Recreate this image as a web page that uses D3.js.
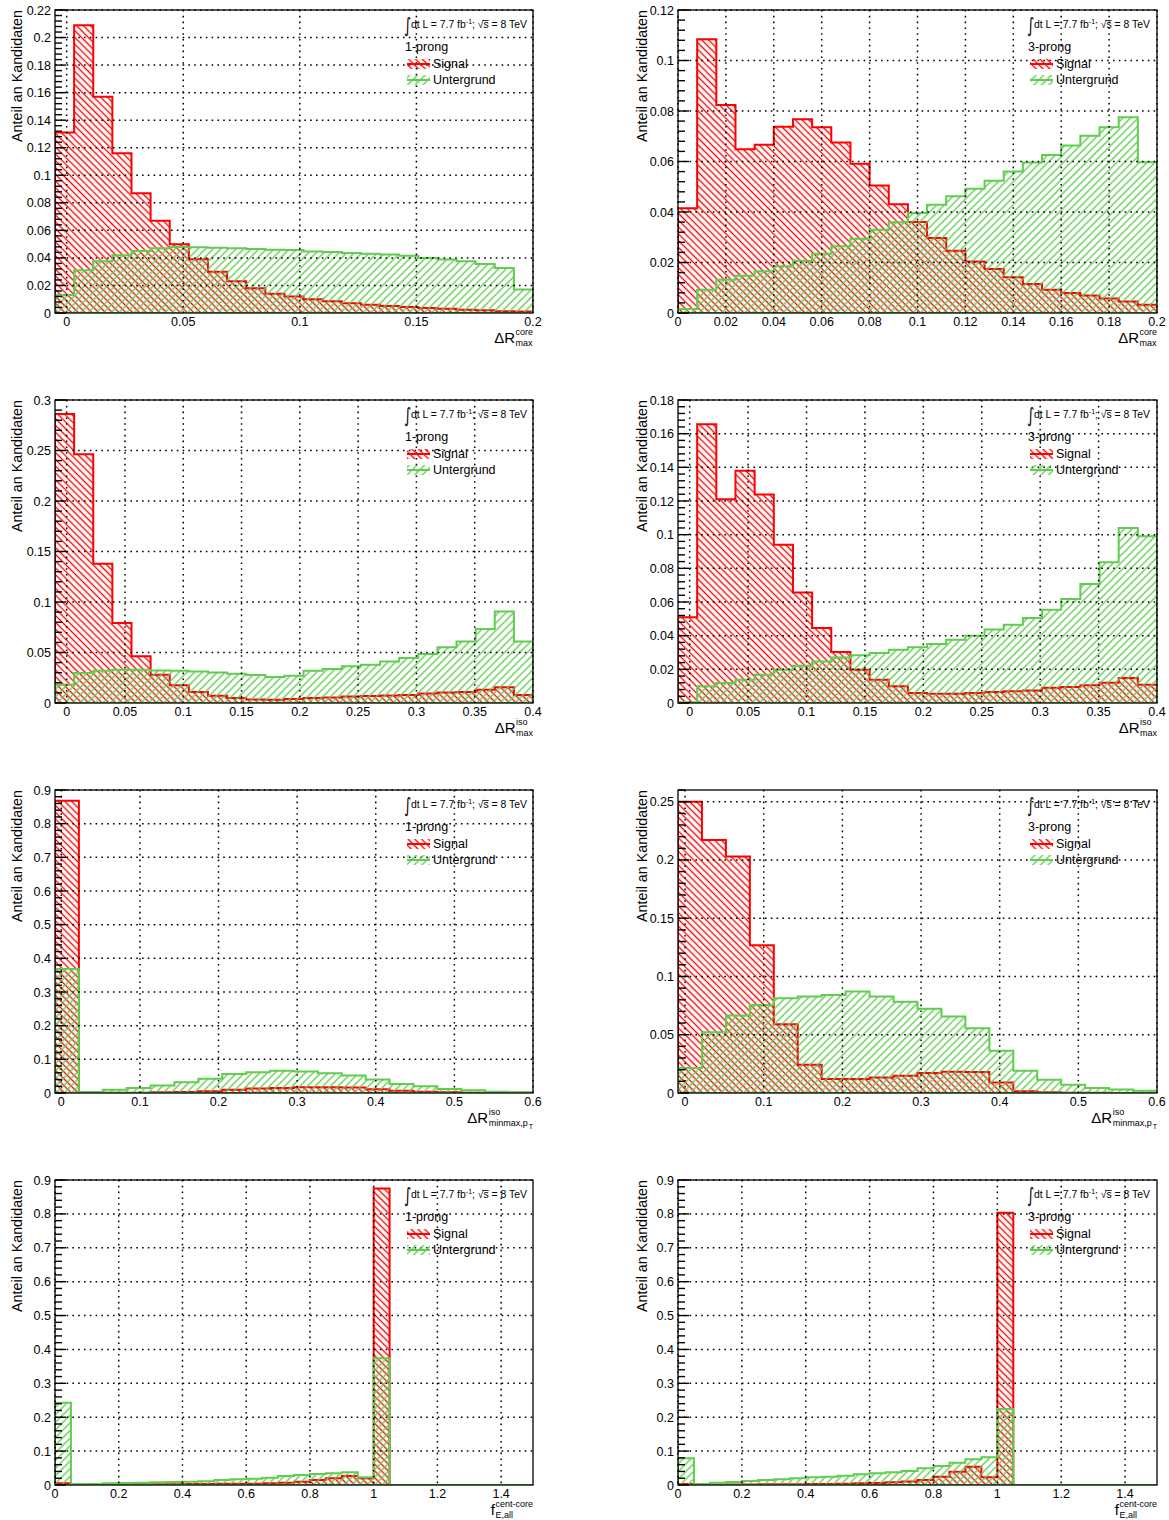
<!DOCTYPE html>
<html>
<head>
<meta charset="utf-8">
<script src="https://cdn.jsdelivr.net/npm/d3@7"></script>
<style>
  body { margin: 0; background: #fff; }
  svg { display: block; font-family: "Liberation Sans", Arial, Helvetica, sans-serif; }
</style>
</head>
<body>
<svg id="chart" width="1169" height="1520"></svg>
<script>
// ---- data: normalised candidate fractions per bin (signal / background) ----
const legendLabels = ["Signal", "Untergrund"];
const prongLabels = ["1-prong", "3-prong"];

// ΔR_max^core, 1-prong  (25 bins, -0.005 .. 0.2)
const xRange1 = [-0.005, 0.2];
const sig1 = [0.131,0.209,0.157,0.116,0.087,0.067,0.050,0.039,0.030,0.023,0.018,0.014,0.012,0.010,0.0085,0.007,0.006,0.005,0.0044,0.0036,0.003,0.0024,0.002,0.0013,0.001];
const bkg1 = [0.013,0.031,0.0375,0.042,0.045,0.047,0.048,0.0478,0.0474,0.047,0.0465,0.046,0.0458,0.0447,0.0443,0.0436,0.043,0.0425,0.0415,0.040,0.0388,0.0375,0.0355,0.0327,0.017];
const xTicks1 = [0, 0.05, 0.1, 0.15, 0.2];
const yTicks1 = [0,0.02,0.04,0.06,0.08,0.1,0.12,0.14,0.16,0.18,0.2,0.22];

// ΔR_max^core, 3-prong  (25 bins, 0 .. 0.2)
const xRange2 = [0, 0.2];
const sig2 = [0.0415,0.1084,0.0824,0.0649,0.0666,0.0738,0.0767,0.0736,0.0675,0.0591,0.0505,0.0431,0.0360,0.0297,0.0247,0.0204,0.0174,0.0142,0.0115,0.0092,0.0079,0.0069,0.0057,0.0046,0.0033];
const bkg2 = [0.0016,0.0092,0.0132,0.0148,0.0165,0.0185,0.0207,0.0235,0.0264,0.0294,0.033,0.0359,0.0396,0.0429,0.0462,0.0492,0.0524,0.056,0.0596,0.0626,0.0663,0.0702,0.0736,0.0775,0.0597];
const xTicks2 = [0,0.02,0.04,0.06,0.08,0.1,0.12,0.14,0.16,0.18,0.2];
const yTicks2 = [0,0.02,0.04,0.06,0.08,0.1,0.12];

// ΔR_max^iso, 1-prong  (25 bins, -0.01 .. 0.4)
const xRange3 = [-0.01, 0.4];
const sig3 = [0.2862,0.2463,0.1378,0.0791,0.0462,0.028,0.0175,0.0109,0.0073,0.005,0.0035,0.0033,0.004,0.005,0.0055,0.0065,0.007,0.0075,0.008,0.0095,0.0105,0.011,0.013,0.0155,0.008];
const bkg3 = [0.0181,0.0297,0.032,0.033,0.033,0.0323,0.032,0.0313,0.0303,0.029,0.0277,0.0257,0.027,0.032,0.0336,0.0363,0.0379,0.0412,0.0445,0.0485,0.0551,0.061,0.0732,0.0907,0.061];
const xTicks3 = [0,0.05,0.1,0.15,0.2,0.25,0.3,0.35,0.4];
const yTicks3 = [0,0.05,0.1,0.15,0.2,0.25,0.3];

// ΔR_max^iso, 3-prong  (25 bins, -0.01 .. 0.4)
const xRange4 = [-0.01, 0.4];
const sig4 = [0.051,0.1656,0.121,0.1379,0.1238,0.094,0.0657,0.0445,0.0303,0.0198,0.0138,0.0099,0.006,0.0055,0.0055,0.006,0.0065,0.007,0.0075,0.009,0.0095,0.0105,0.012,0.0148,0.0109];
const bkg4 = [0.0004,0.0099,0.0119,0.0138,0.0168,0.0198,0.0222,0.0247,0.0271,0.0283,0.0297,0.0317,0.0331,0.035,0.0376,0.04,0.0436,0.0465,0.0505,0.0554,0.0618,0.0707,0.0836,0.104,0.099];
const xTicks4 = [0,0.05,0.1,0.15,0.2,0.25,0.3,0.35,0.4];
const yTicks4 = [0,0.02,0.04,0.06,0.08,0.1,0.12,0.14,0.16,0.18];

// ΔR_minmax,pT^iso, 1-prong  (20 bins, -0.008 .. 0.6)
const xRange5 = [-0.008, 0.6];
const sig5 = [0.868,0.001,0.001,0.001,0.002,0.003,0.005,0.010,0.013,0.015,0.017,0.017,0.016,0.011,0.007,0.004,0.002,0.001,0.001,0.0005];
const bkg5 = [0.368,0.003,0.0099,0.015,0.022,0.032,0.0426,0.0564,0.062,0.066,0.064,0.059,0.052,0.040,0.027,0.020,0.012,0.008,0.004,0.002];
const xTicks5 = [0,0.1,0.2,0.3,0.4,0.5,0.6];
const yTicks5 = [0,0.1,0.2,0.3,0.4,0.5,0.6,0.7,0.8,0.9];

// ΔR_minmax,pT^iso, 3-prong  (20 bins, -0.009 .. 0.6)
const xRange6 = [-0.009, 0.6];
const sig6 = [0.25,0.2172,0.203,0.1268,0.059,0.0242,0.012,0.012,0.0134,0.0148,0.0171,0.0182,0.018,0.0091,0.0014,0.0006,0.0003,0.0002,0.0001,0.0001];
const bkg6 = [0.0214,0.0522,0.0664,0.0755,0.0812,0.0827,0.0841,0.087,0.0827,0.0784,0.0724,0.0656,0.0556,0.0362,0.0191,0.0114,0.0071,0.0043,0.0029,0.002];
const xTicks6 = [0,0.1,0.2,0.3,0.4,0.5,0.6];
const yTicks6 = [0,0.05,0.1,0.15,0.2,0.25];

// f_E,all^cent-core, 1-prong  (30 bins, 0 .. 1.5)
const xRange7 = [0, 1.5];
const sig7 = [0.005,0.0005,0.001,0.001,0.0015,0.002,0.002,0.0025,0.003,0.003,0.0035,0.004,0.004,0.005,0.007,0.0098,0.0148,0.0197,0.0266,0.0197,0.875,0,0,0,0,0,0,0,0,0];
const bkg7 = [0.243,0.002,0.003,0.005,0.006,0.007,0.008,0.009,0.0098,0.011,0.0148,0.0167,0.0187,0.0216,0.0266,0.0295,0.0325,0.0344,0.0374,0.0226,0.374,0,0,0,0,0,0,0,0,0];
const xTicks7 = [0,0.2,0.4,0.6,0.8,1,1.2,1.4];
const yTicks7 = [0,0.1,0.2,0.3,0.4,0.5,0.6,0.7,0.8,0.9];

// f_E,all^cent-core, 3-prong  (30 bins, 0 .. 1.5)
const xRange8 = [0, 1.5];
const sig8 = [0.003,0.001,0.001,0.0015,0.0015,0.002,0.002,0.0025,0.003,0.003,0.0035,0.005,0.006,0.008,0.010,0.0148,0.0246,0.0393,0.054,0.0226,0.8036,0,0,0,0,0,0,0,0,0];
const bkg8 = [0.0787,0.003,0.0069,0.0089,0.0118,0.0148,0.0167,0.0197,0.0226,0.0246,0.0275,0.0315,0.0344,0.0374,0.0413,0.0492,0.056,0.0659,0.0757,0.0816,0.2243,0,0,0,0,0,0,0,0,0];
const xTicks8 = [0,0.2,0.4,0.6,0.8,1,1.2,1.4];
const yTicks8 = [0,0.1,0.2,0.3,0.4,0.5,0.6,0.7,0.8,0.9];

// axis titles: [main, superscript, subscript, sub-subscript]
const titleCore = ["ΔR", "core", "max", ""];
const titleIso = ["ΔR", "iso", "max", ""];
const titleMinmax = ["ΔR", "iso", "minmax,p", "T"];
const titleFrac = ["f", "cent-core", "E,all", ""];

const panels = [
  { xr: xRange1, yMax: 0.22, xt: xTicks1, yt: yTicks1, sig: sig1, bkg: bkg1, prong: 0, title: titleCore },
  { xr: xRange2, yMax: 0.12, xt: xTicks2, yt: yTicks2, sig: sig2, bkg: bkg2, prong: 1, title: titleCore },
  { xr: xRange3, yMax: 0.30, xt: xTicks3, yt: yTicks3, sig: sig3, bkg: bkg3, prong: 0, title: titleIso },
  { xr: xRange4, yMax: 0.18, xt: xTicks4, yt: yTicks4, sig: sig4, bkg: bkg4, prong: 1, title: titleIso },
  { xr: xRange5, yMax: 0.90, xt: xTicks5, yt: yTicks5, sig: sig5, bkg: bkg5, prong: 0, title: titleMinmax },
  { xr: xRange6, yMax: 0.26, xt: xTicks6, yt: yTicks6, sig: sig6, bkg: bkg6, prong: 1, title: titleMinmax },
  { xr: xRange7, yMax: 0.90, xt: xTicks7, yt: yTicks7, sig: sig7, bkg: bkg7, prong: 0, title: titleFrac },
  { xr: xRange8, yMax: 0.90, xt: xTicks8, yt: yTicks8, sig: sig8, bkg: bkg8, prong: 1, title: titleFrac }
];

// ---- layout & style ----
const colLeft = [55, 678];
const colWidth = [478, 479];
const rowTop = [10, 400, 790, 1180];
const rowHeight = [303, 303, 303, 305];
const RED = "#ff0000";
const GREEN = "#5fcd4f";

const svg = d3.select("#chart");
const defs = svg.append("defs");

function hatch(id, color, angle, gap) {
  const p = defs.append("pattern")
    .attr("id", id)
    .attr("patternUnits", "userSpaceOnUse")
    .attr("width", gap).attr("height", gap)
    .attr("patternTransform", `rotate(${angle})`);
  p.append("line")
    .attr("x1", gap / 2).attr("x2", gap / 2)
    .attr("y1", -1).attr("y2", gap + 1)
    .attr("stroke", color).attr("stroke-width", 1.35);
}
hatch("hatchSig", RED, -45, 4.8);
hatch("hatchBkg", GREEN, 45, 5.4);

function histPoints(values, xr) {
  const w = (xr[1] - xr[0]) / values.length;
  const pts = [[xr[0], 0]];
  values.forEach((v, i) => {
    pts.push([xr[0] + i * w, v]);
    pts.push([xr[0] + (i + 1) * w, v]);
  });
  pts.push([xr[1], 0]);
  return pts;
}

function drawPanel(p, idx) {
  const col = idx % 2, row = Math.floor(idx / 2);
  const L = colLeft[col], W = colWidth[col];
  const T = rowTop[row], H = rowHeight[row];
  const x = d3.scaleLinear().domain(p.xr).range([L, L + W]);
  const y = d3.scaleLinear().domain([0, p.yMax]).range([T + H, T]);
  const g = svg.append("g");

  const clipId = "clip" + idx;
  defs.append("clipPath").attr("id", clipId)
    .append("rect").attr("x", L).attr("y", T).attr("width", W).attr("height", H);

  const line = d3.line().x(d => x(d[0])).y(d => y(d[1]));
  const hg = g.append("g").attr("clip-path", `url(#${clipId})`);
  [[p.sig, "hatchSig", RED], [p.bkg, "hatchBkg", GREEN]].forEach(([vals, pat, col]) => {
    hg.append("path")
      .attr("d", line(histPoints(vals, p.xr)) + "Z")
      .attr("fill", `url(#${pat})`)
      .attr("stroke", col)
      .attr("stroke-width", 2)
      .attr("stroke-linejoin", "miter");
  });

  // dotted grid on top of the histograms
  const grid = g.append("g").attr("stroke", "#000").attr("stroke-width", 1.5)
    .attr("stroke-dasharray", "1.6,4.2");
  p.xt.forEach(v => {
    grid.append("line").attr("x1", x(v)).attr("x2", x(v)).attr("y1", T).attr("y2", T + H);
  });
  p.yt.filter(v => v > 0).forEach(v => {
    grid.append("line").attr("x1", L).attr("x2", L + W).attr("y1", y(v)).attr("y2", y(v));
  });

  // frame
  g.append("rect").attr("x", L).attr("y", T).attr("width", W).attr("height", H)
    .attr("fill", "none").attr("stroke", "#000").attr("stroke-width", 1.3);

  // y ticks (major + 5 subdivisions)
  const step = (p.yt[1] - p.yt[0]) / 5;
  const ticks = g.append("g").attr("stroke", "#000").attr("stroke-width", 1.4);
  for (let k = 0; k * step <= p.yMax + 1e-9; k++) {
    const major = k % 5 === 0;
    const yy = y(k * step);
    ticks.append("line").attr("x1", L).attr("x2", L + (major ? 11 : 7))
      .attr("y1", yy).attr("y2", yy);
  }

  // y tick labels
  g.append("g").selectAll("text").data(p.yt).join("text")
    .attr("x", L - 4).attr("y", d => y(d))
    .attr("dy", "0.36em")
    .attr("text-anchor", "end")
    .attr("font-size", 12.5)
    .text(d => String(d));

  // x tick labels
  g.append("g").selectAll("text").data(p.xt).join("text")
    .attr("x", d => x(d)).attr("y", T + H + 13)
    .attr("text-anchor", "middle")
    .attr("font-size", 12.5)
    .text(d => String(d));

  // y axis title
  g.append("text")
    .attr("transform", `translate(${L - (col === 0 ? 33 : 31)},${T}) rotate(-90)`)
    .attr("text-anchor", "end")
    .attr("font-size", 14.3)
    .text("Anteil an Kandidaten");

  // x axis title with super/subscripts
  const [main, sup, sub, subsub] = p.title;
  const tg = g.append("g");
  const tSup = tg.append("text").attr("font-size", 9).attr("y", T + H + 22).text(sup);
  const tSub = tg.append("text").attr("font-size", 9).attr("y", T + H + 33).text(sub);
  const tSubSub = tg.append("text").attr("font-size", 7).attr("y", T + H + 36).text(subsub);
  const wSup = tSup.node().getComputedTextLength();
  const wSub = tSub.node().getComputedTextLength();
  const wSubSub = subsub ? tSubSub.node().getComputedTextLength() + 1 : 0;
  const x0 = L + W - Math.max(wSup, wSub + wSubSub);
  tSup.attr("x", x0);
  tSub.attr("x", x0);
  tSubSub.attr("x", x0 + wSub + 1);
  tg.append("text").attr("font-size", 15).attr("x", x0 - 0.5).attr("y", T + H + 30)
    .attr("text-anchor", "end").text(main);

  // header: luminosity and centre-of-mass energy
  const hx = L + 349;
  g.append("text").attr("x", hx).attr("y", T + 22).attr("font-size", 20)
    .attr("font-family", "DejaVu Sans")
    .attr("transform", `translate(${hx},${T + 22}) scale(0.7,1) translate(${-hx},${-(T + 22)})`)
    .text("∫");
  const ht = g.append("text").attr("x", L + 356).attr("y", T + 18).attr("font-size", 10.4);
  ht.append("tspan").text("dt L = 7.7 fb");
  ht.append("tspan").attr("font-size", 7).attr("dy", -4).text("-1");
  ht.append("tspan").attr("dy", 4).text("; ");
  ht.append("tspan").text("√s");
  ht.append("tspan").text(" = 8 TeV");
  // overline for the square root
  {
    const n = ht.node();
    const iS = n.textContent.indexOf("√s") + 1;
    const ext = n.getExtentOfChar(iS);
    g.append("line").attr("x1", ext.x - 1).attr("x2", ext.x + ext.width)
      .attr("y1", ext.y + 1.5).attr("y2", ext.y + 1.5)
      .attr("stroke", "#000").attr("stroke-width", 0.8);
  }

  // prong label and legend
  g.append("text").attr("x", L + 350).attr("y", T + 41).attr("font-size", 12.5)
    .text(prongLabels[p.prong]);
  [[legendLabels[0], "hatchSig", RED, T + 49], [legendLabels[1], "hatchBkg", GREEN, T + 65]]
    .forEach(([lab, pat, col, yy]) => {
      g.append("rect").attr("x", L + 352).attr("y", yy).attr("width", 23).attr("height", 10)
        .attr("fill", `url(#${pat})`);
      g.append("line").attr("x1", L + 352).attr("x2", L + 375)
        .attr("y1", yy + 5).attr("y2", yy + 5).attr("stroke", col).attr("stroke-width", 2);
      g.append("text").attr("x", L + 378).attr("y", yy + 9).attr("font-size", 12.5).text(lab);
    });
}

panels.forEach(drawPanel);
</script>
</body>
</html>
